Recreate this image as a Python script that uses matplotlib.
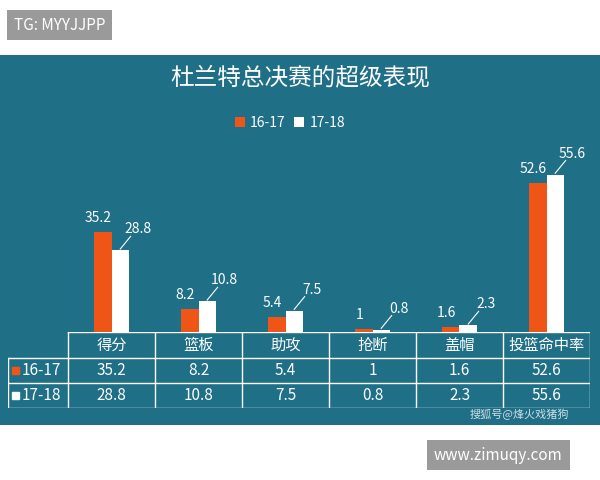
import matplotlib.pyplot as plt
from matplotlib.patches import Rectangle

plt.rcParams['font.family'] = ['Noto Sans CJK SC', 'DejaVu Sans']

categories = ["得分", "篮板", "助攻", "抢断", "盖帽", "投篮命中率"]
s1617 = [35.2, 8.2, 5.4, 1, 1.6, 52.6]
s1718 = [28.8, 10.8, 7.5, 0.8, 2.3, 55.6]
series_names = ["16-17", "17-18"]

TEAL = "#1f6f87"
ORANGE = "#ee5516"

W, H = 600, 480
fig = plt.figure(figsize=(6, 4.8), dpi=100, facecolor="white")

# teal panel
bg = fig.add_axes([0, 1 - 425 / H, 1, (425 - 55) / H])
bg.set_facecolor(TEAL)
bg.set_xticks([]); bg.set_yticks([])
for s in bg.spines.values():
    s.set_visible(False)

fig.text(300 / W, 1 - 78 / H, "杜兰特总决赛的超级表现", color="white",
         fontsize=17, ha="center", va="center")

# bars
ax = fig.add_axes([68 / W, 1 - 332 / H, 522 / W, 182 / H])
ax.set_facecolor("none")
x = range(len(categories))
bw = 0.2
b1 = ax.bar([i - bw / 2 for i in x], s1617, bw, color=ORANGE, label=series_names[0])
b2 = ax.bar([i + bw / 2 for i in x], s1718, bw, color="white", label=series_names[1])
ax.set_xlim(-0.5, 5.5)
ax.set_ylim(0, 182 / 2.83)
ax.axis("off")
for i in x:
    ax.text(i - bw / 2 - 0.05, s1617[i] + 2.5, f"{s1617[i]:g}", color="white",
            ha="center", va="bottom", fontsize=10)
    ax.text(i + bw / 2 + 0.2, s1718[i] + 5, f"{s1718[i]:g}", color="white",
            ha="center", va="bottom", fontsize=10)
    ax.plot([i + bw / 2, i + bw / 2 + 0.12], [s1718[i] + 0.5, s1718[i] + 5],
            color="white", lw=0.8)
leg = fig.legend(handles=[b1, b2], loc="center", bbox_to_anchor=(290 / W, 1 - 123 / H),
                 ncol=2, frameon=False, fontsize=10, handlelength=0.7,
                 handleheight=0.7, columnspacing=0.6, handletextpad=0.4)
for t in leg.get_texts():
    t.set_color("white")

# table
tx0, tx1, ty0, ty1 = 8, 590, 332, 408
tab = fig.add_axes([tx0 / W, 1 - ty1 / H, (tx1 - tx0) / W, (ty1 - ty0) / H])
tab.set_facecolor("none")
tab.axis("off")
tab.set_xlim(tx0, tx1)
tab.set_ylim(ty1, ty0)
col_w = 522 / 6
xs = [68 + k * col_w for k in range(7)]
rows = [332, 358, 383, 408]
lc = "white"
for r in rows:
    tab.plot([68 if r == 332 else 8, 590], [r, r], color=lc, lw=1)
for k, xv in enumerate(xs):
    tab.plot([xv, xv], [332, 408], color=lc, lw=1)
tab.plot([8, 8], [358, 408], color=lc, lw=1)
for k, c in enumerate(categories):
    cx = xs[k] + col_w / 2
    tab.text(cx, 345, c, color="white", ha="center", va="center", fontsize=11)
    tab.text(cx, 370.5, f"{s1617[k]:g}", color="white", ha="center", va="center", fontsize=11)
    tab.text(cx, 395.5, f"{s1718[k]:g}", color="white", ha="center", va="center", fontsize=11)
for yc, name, col in [(370.5, series_names[0], ORANGE), (395.5, series_names[1], "white")]:
    tab.add_patch(Rectangle((12, yc - 3.5), 7, 7, color=col))
    tab.text(22, yc, name, color="white", ha="left", va="center", fontsize=11)

# watermarks
fig.text(470 / W, 1 - 414 / H, "搜狐号@烽火戏猪狗", color="#d0e0e6", fontsize=8,
         ha="left", va="center")
fig.text(14 / W, 1 - 25 / H, "TG: MYYJJPP", color="white", fontsize=11, va="center",
         bbox=dict(facecolor="#9a9a9a", edgecolor="none", pad=5))
fig.text(434 / W, 1 - 455 / H, "www.zimuqy.com", color="white", fontsize=11, va="center",
         bbox=dict(facecolor="#9a9a9a", edgecolor="none", pad=5))

fig.savefig("out.png", dpi=100, facecolor="white")
